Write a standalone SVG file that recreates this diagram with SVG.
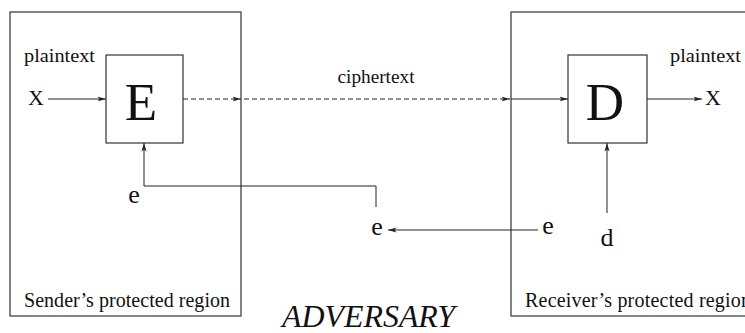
<svg xmlns="http://www.w3.org/2000/svg" width="745" height="333" viewBox="0 0 745 333">
<defs>
<marker id="ah" markerWidth="9" markerHeight="6" refX="8.5" refY="3" orient="auto" markerUnits="userSpaceOnUse">
<path d="M0,0.5 L8.5,3 L0,5.5 L2,3 z" fill="#222"/>
</marker>
<style>
.box{fill:none;stroke:#333;stroke-width:1.2}
.ln{fill:none;stroke:#222;stroke-width:1}
.dash{stroke-dasharray:5,3}
.t{font-family:"Liberation Serif",serif;fill:#111}
</style>
</defs>
<rect width="745" height="333" fill="#fff"/>
<g id="sender">
<rect class="box" x="10" y="12" width="231" height="304"/>
<text class="t" x="24" y="62" font-size="19" textLength="71" lengthAdjust="spacingAndGlyphs">plaintext</text>
<text class="t" x="28" y="105" font-size="22">X</text>
<text class="t" x="134" y="203" font-size="26" text-anchor="middle">e</text>
<text class="t" x="24" y="307" font-size="20" textLength="206" lengthAdjust="spacing">Sender’s protected region</text>
</g>
<g id="E">
<rect class="box" x="106" y="55" width="77" height="88"/>
<text class="t" x="141" y="120" font-size="53" text-anchor="middle">E</text>
</g>
<g id="receiver">
<rect class="box" x="511" y="12" width="250" height="304"/>
<text class="t" x="670" y="62" font-size="19" textLength="71" lengthAdjust="spacingAndGlyphs">plaintext</text>
<text class="t" x="705" y="105" font-size="22">X</text>
<text class="t" x="548" y="234" font-size="26" text-anchor="middle">e</text>
<text class="t" x="607" y="246" font-size="26" text-anchor="middle">d</text>
<text class="t" x="525" y="307" font-size="20" textLength="226" lengthAdjust="spacing">Receiver’s protected region</text>
</g>
<g id="D">
<rect class="box" x="568" y="55" width="79" height="88"/>
<text class="t" x="605" y="120" font-size="53" text-anchor="middle">D</text>
</g>
<g id="adversary">
<text class="t" x="376" y="83" font-size="19" text-anchor="middle" textLength="77" lengthAdjust="spacingAndGlyphs">ciphertext</text>
<text class="t" x="377" y="235" font-size="26" text-anchor="middle">e</text>
<text class="t" x="282" y="327" font-size="31" font-style="italic" textLength="173" lengthAdjust="spacingAndGlyphs">ADVERSARY</text>
</g>
<g id="connectors">
<line class="ln" x1="48" y1="99" x2="106" y2="99" marker-end="url(#ah)"/>
<line class="ln dash" x1="183" y1="99" x2="241" y2="99" marker-end="url(#ah)"/>
<line class="ln dash" x1="244" y1="99" x2="510" y2="99" marker-end="url(#ah)"/>
<line class="ln" x1="511" y1="99" x2="568" y2="99" marker-end="url(#ah)"/>
<line class="ln" x1="647" y1="99" x2="702" y2="99" marker-end="url(#ah)"/>
<polyline class="ln" points="376,207 376,186 144,186 144,143" marker-end="url(#ah)"/>
<line class="ln" x1="538" y1="230" x2="388" y2="230" marker-end="url(#ah)"/>
<line class="ln" x1="607" y1="213" x2="607" y2="143" marker-end="url(#ah)"/>
</g>
</svg>
